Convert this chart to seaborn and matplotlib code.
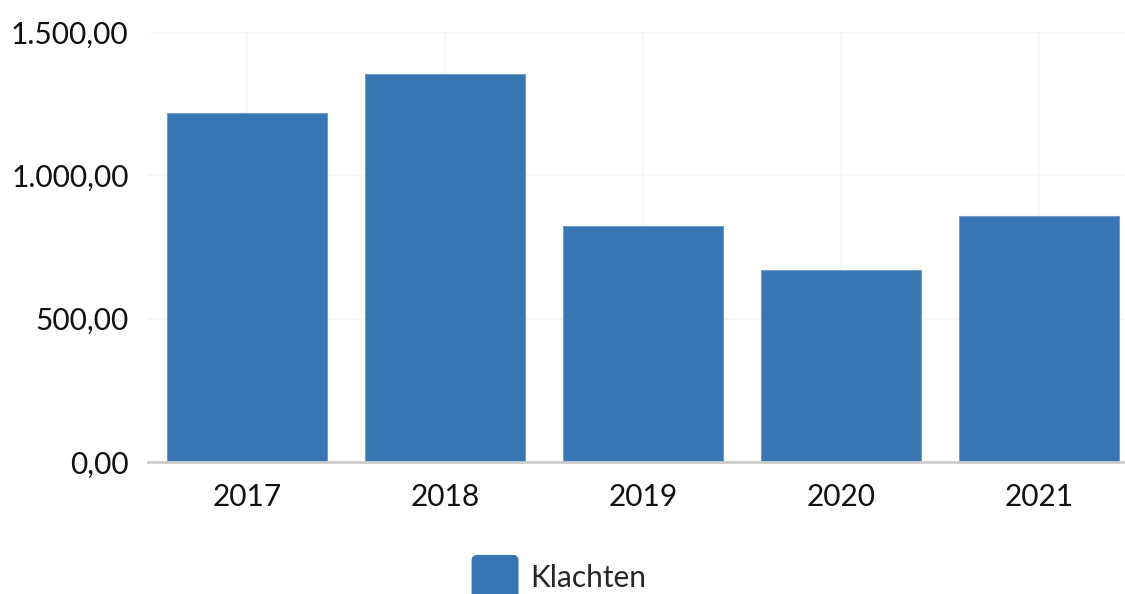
import pandas as pd
import matplotlib
matplotlib.use("Agg")
import matplotlib.pyplot as plt
import seaborn as sns
from matplotlib.patches import Patch, FancyBboxPatch
from matplotlib.legend_handler import HandlerPatch
from matplotlib.ticker import FuncFormatter

# data
years = ["2017", "2018", "2019", "2020", "2021"]
klachten = [1218, 1354, 824, 670, 858]

df = pd.DataFrame({"jaar": years, "klachten": klachten})

sns.set_style("white")
plt.rcParams["font.family"] = ["Lato", "DejaVu Sans"]

blue = "#3776b2"

fig = plt.figure(figsize=(11.25, 5.94), dpi=100)
ax = fig.add_axes([148 / 1125, 132 / 594, 990 / 1125, 430 / 594])

sns.barplot(data=df, x="jaar", y="klachten", color=blue, saturation=1,
            width=0.808, ax=ax, zorder=3, edgecolor="#6f9bc8", linewidth=0.8)

ax.set_ylim(0, 1500)
ax.set_xlim(-0.5, 4.5)
ax.set_yticks([0, 500, 1000, 1500])


def nl_fmt(v, pos):
    s = f"{v:,.2f}"
    return s.replace(",", "X").replace(".", ",").replace("X", ".")


ax.yaxis.set_major_formatter(FuncFormatter(nl_fmt))
ax.set_xlabel("")
ax.set_ylabel("")

ax.grid(True, axis="both", color="#f3f5f6", linewidth=1.2, zorder=0)
for side in ["top", "right", "left"]:
    ax.spines[side].set_visible(False)
ax.spines["bottom"].set_color("#cccccc")
ax.spines["bottom"].set_linewidth(2)
ax.spines["bottom"].set_zorder(4)

ax.tick_params(axis="both", length=0, labelsize=21.5, colors="#111111")
ax.tick_params(axis="x", pad=15)
ax.tick_params(axis="y", pad=14)


# legend box with rounded corners
class RoundBox(HandlerPatch):
    def create_artists(self, legend, orig_handle, xdescent, ydescent,
                       width, height, fontsize, trans):
        p = FancyBboxPatch((-xdescent, -ydescent), width, height,
                           boxstyle="round,pad=0,rounding_size=4",
                           facecolor=orig_handle.get_facecolor(),
                           edgecolor="none", transform=trans)
        return [p]


handle = Patch(facecolor=blue, label="Klachten")
fig.legend(handles=[handle], handler_map={Patch: RoundBox()},
           loc="center", bbox_to_anchor=(559 / 1125, 1 - 578 / 594),
           frameon=False, fontsize=21.5, handlelength=1.57, handleheight=2.0,
           handletextpad=0.4)

fig.savefig("out.png", dpi=100)
